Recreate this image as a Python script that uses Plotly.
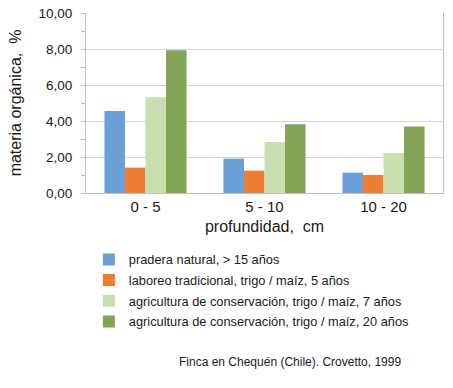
import plotly.graph_objects as go

categories = ["0 - 5", "5 - 10", "10 - 20"]
series_names = [
    "pradera natural, > 15 años",
    "laboreo tradicional, trigo / maíz, 5 años",
    "agricultura de conservación, trigo / maíz, 7 años",
    "agricultura de conservación, trigo / maíz, 20 años",
]
pradera = [4.56, 1.91, 1.13]
laboreo = [1.41, 1.24, 1.00]
conserv7 = [5.32, 2.83, 2.22]
conserv20 = [7.93, 3.82, 3.69]
colors = ["#6a9fd8", "#ec7d33", "#cadfb0", "#83a456"]
ytick_vals = [0, 2, 4, 6, 8, 10]
ytick_text = ["0,00", "2,00", "4,00", "6,00", "8,00", "10,00"]

FONT = "Liberation Sans, Arial, sans-serif"

fig = go.Figure()
for i, (name, vals) in enumerate(zip(series_names, [pradera, laboreo, conserv7, conserv20])):
    fig.add_trace(go.Bar(
        x=categories, y=vals, name=name,
        marker=dict(color=colors[i], line=dict(width=0)),
        legendgroup=f"g{i}",
    ))

fig.update_layout(
    width=453, height=388,
    margin=dict(l=86, r=10, t=13, b=195, autoexpand=False),
    paper_bgcolor="white", plot_bgcolor="white",
    barmode="group", bargap=0.31, bargroupgap=0,
    font=dict(family=FONT, color="#1a1a1a"),
    showlegend=True,
    legend=dict(
        x=0.008, xanchor="left", y=-0.287, yanchor="top",
        font=dict(size=12.8, family=FONT, color="#1a1a1a"),
        tracegroupgap=1, traceorder="grouped",
        bgcolor="rgba(0,0,0,0)", itemclick=False,
    ),
    xaxis=dict(
        automargin=False,
        showline=True, linecolor="#bfbfbf", linewidth=1,
        showgrid=False, ticks="",
        tickfont=dict(size=15, family=FONT, color="#1a1a1a"),
        title=dict(text="profundidad,\u00a0 cm", font=dict(size=16, family=FONT, color="#1a1a1a"), standoff=6),
    ),
    yaxis=dict(
        automargin=False,
        range=[0, 10], tickvals=ytick_vals, ticktext=ytick_text,
        showline=True, linecolor="#bfbfbf", linewidth=1, mirror=True,
        showgrid=True, gridcolor="#d4d4d4", gridwidth=1,
        ticks="outside", ticklen=4, tickcolor="#bfbfbf",
        minor=dict(dtick=1, ticks="outside", ticklen=4, tickcolor="#bfbfbf", showgrid=False),
        tickfont=dict(size=13.5, family=FONT, color="#1a1a1a"),
        ticklabelstandoff=6,
        title=dict(text="materia orgánica,\u00a0 %", font=dict(size=16, family=FONT, color="#1a1a1a"), standoff=12),
        zeroline=False,
    ),
    annotations=[dict(
        text="Finca en Chequén (Chile). Crovetto, 1999",
        xref="paper", yref="paper", x=0.571, y=-0.939,
        xanchor="center", yanchor="middle", showarrow=False,
        font=dict(size=12, family=FONT, color="#1a1a1a"),
    )],
)

fig.write_html("out.html", config={"displayModeBar": False},
               post_script="document.body.style.margin='0';")
